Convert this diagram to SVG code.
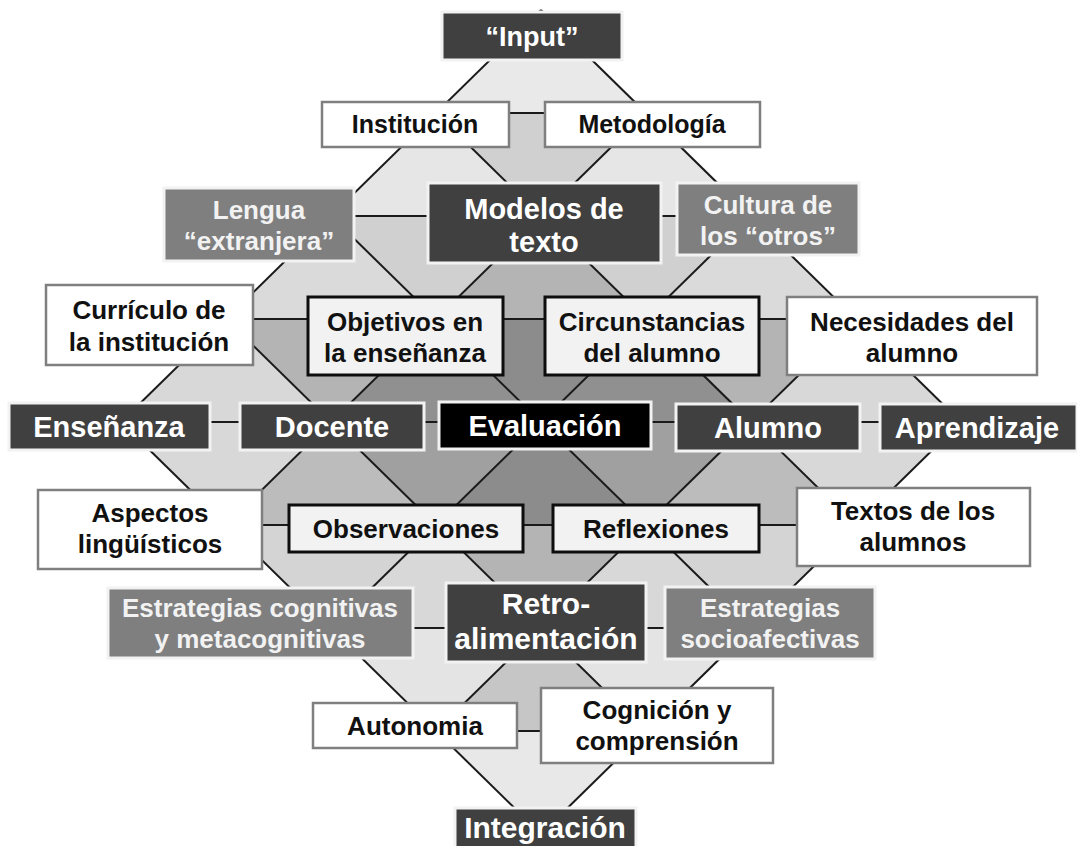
<svg xmlns="http://www.w3.org/2000/svg" width="1077" height="846" viewBox="0 0 1077 846">
  <style>
    .bg { stroke: none; }
    .ln { stroke: #1a1a1a; stroke-width: 2; fill: none; }
    .dark { fill: #404040; stroke: #f2f2f2; stroke-width: 3; }
    .blk { fill: #000000; stroke: #f2f2f2; stroke-width: 3; }
    .mid { fill: #7f7f7f; stroke: #f2f2f2; stroke-width: 3; }
    .wht { fill: #ffffff; stroke: #7f7f7f; stroke-width: 2.5; }
    .inn { fill: #f2f2f2; stroke: #0d0d0d; stroke-width: 3; }
    text { font-family: "Liberation Sans", Arial, sans-serif; font-weight: bold; text-anchor: middle; }
    .tw { fill: #ffffff; }
    .tl { fill: #f2f2f2; }
    .td { fill: #111111; }
    .s26 { font-size: 26px; }
    .s29 { font-size: 29px; }
  </style>

  <!-- shaded lattice of triangles -->
  <g id="background">
    <polygon class="bg" fill="#e9e9e9" points="541,10 436,113 646,113"/>
    <polygon class="bg" fill="#e6e6e6" points="436,113 331,216 541,216"/>
    <polygon class="bg" fill="#d0d0d0" points="436,113 646,113 541,216"/>
    <polygon class="bg" fill="#e6e6e6" points="646,113 541,216 751,216"/>
    <polygon class="bg" fill="#dadada" points="331,216 226,319 436,319"/>
    <polygon class="bg" fill="#d0d0d0" points="331,216 541,216 436,319"/>
    <polygon class="bg" fill="#b4b4b4" points="541,216 436,319 646,319"/>
    <polygon class="bg" fill="#d0d0d0" points="541,216 751,216 646,319"/>
    <polygon class="bg" fill="#dadada" points="751,216 646,319 856,319"/>
    <polygon class="bg" fill="#d8d8d8" points="226,319 121,422 331,422"/>
    <polygon class="bg" fill="#b4b4b4" points="226,319 436,319 331,422"/>
    <polygon class="bg" fill="#909090" points="436,319 331,422 541,422"/>
    <polygon class="bg" fill="#8c8c8c" points="436,319 646,319 541,422"/>
    <polygon class="bg" fill="#909090" points="646,319 541,422 751,422"/>
    <polygon class="bg" fill="#b4b4b4" points="646,319 856,319 751,422"/>
    <polygon class="bg" fill="#d8d8d8" points="856,319 751,422 961,422"/>
    <polygon class="bg" fill="#d8d8d8" points="121,422 331,422 226,525"/>
    <polygon class="bg" fill="#bcbcbc" points="331,422 226,525 436,525"/>
    <polygon class="bg" fill="#a0a0a0" points="331,422 541,422 436,525"/>
    <polygon class="bg" fill="#8c8c8c" points="541,422 436,525 646,525"/>
    <polygon class="bg" fill="#a0a0a0" points="541,422 751,422 646,525"/>
    <polygon class="bg" fill="#bcbcbc" points="751,422 646,525 856,525"/>
    <polygon class="bg" fill="#d8d8d8" points="751,422 961,422 856,525"/>
    <polygon class="bg" fill="#d4d4d4" points="226,525 436,525 331,628"/>
    <polygon class="bg" fill="#d8d8d8" points="436,525 331,628 541,628"/>
    <polygon class="bg" fill="#b4b4b4" points="436,525 646,525 541,628"/>
    <polygon class="bg" fill="#d8d8d8" points="646,525 541,628 751,628"/>
    <polygon class="bg" fill="#d4d4d4" points="646,525 856,525 751,628"/>
    <polygon class="bg" fill="#e4e4e4" points="331,628 541,628 436,731"/>
    <polygon class="bg" fill="#c6c6c6" points="541,628 436,731 646,731"/>
    <polygon class="bg" fill="#e4e4e4" points="541,628 751,628 646,731"/>
    <polygon class="bg" fill="#e8e8e8" points="436,731 646,731 541,834"/>
  </g>

  <!-- connectors: diagonal lattice edges and row links -->
  <g id="connectors" class="ln">
    <!-- "\" direction -->
    <path d="M541,10 L961,422"/>
    <path d="M436,113 L856,525"/>
    <path d="M331,216 L751,628"/>
    <path d="M226,319 L646,731"/>
    <path d="M121,422 L541,834"/>
    <!-- "/" direction -->
    <path d="M541,10 L121,422"/>
    <path d="M646,113 L226,525"/>
    <path d="M751,216 L331,628"/>
    <path d="M856,319 L436,731"/>
    <path d="M961,422 L541,834"/>
    <!-- row links -->
    <path d="M436,113 H646"/>
    <path d="M331,216 H751"/>
    <path d="M226,319 H856"/>
    <path d="M121,422 H961"/>
    <path d="M226,525 H856"/>
    <path d="M331,628 H751"/>
    <path d="M436,731 H646"/>
  </g>

  <g id="input"><rect class="dark" x="442" y="12" width="180" height="48"/><text class="tw" x="532" y="46" font-size="27">“Input”</text></g>

  <g id="institucion"><rect class="wht" x="322" y="102" width="187" height="45"/><text class="td" x="415" y="133" font-size="25">Institución</text></g>
  <g id="metodologia"><rect class="wht" x="545" y="102" width="215" height="45"/><text class="td" x="652" y="133" font-size="25">Metodología</text></g>

  <g id="lengua"><rect class="mid" x="164" y="188" width="190" height="73"/><text class="tl s26" x="259"><tspan x="259" y="219">Lengua</tspan><tspan x="259" y="250">“extranjera”</tspan></text></g>
  <g id="modelos"><rect class="dark" x="428" y="183" width="233" height="80"/><text class="tw s29" x="544"><tspan x="544" y="219">Modelos de</tspan><tspan x="544" y="252">texto</tspan></text></g>
  <g id="cultura"><rect class="mid" x="677" y="183" width="182" height="72"/><text class="tl s26" x="768"><tspan x="768" y="214">Cultura de</tspan><tspan x="768" y="245">los “otros”</tspan></text></g>

  <g id="curriculo"><rect class="wht" x="46" y="285" width="207" height="80"/><text class="td s26" x="149"><tspan x="149" y="319">Currículo de</tspan><tspan x="149" y="351">la institución</tspan></text></g>
  <g id="objetivos"><rect class="inn" x="308" y="297" width="195" height="78"/><text class="td s26" x="405"><tspan x="405" y="331">Objetivos en</tspan><tspan x="405" y="362">la enseñanza</tspan></text></g>
  <g id="circunstancias"><rect class="inn" x="545" y="297" width="214" height="78"/><text class="td s26" x="652"><tspan x="652" y="331">Circunstancias</tspan><tspan x="652" y="362">del alumno</tspan></text></g>
  <g id="necesidades"><rect class="wht" x="787" y="297" width="250" height="78"/><text class="td s26" x="912"><tspan x="912" y="331">Necesidades del</tspan><tspan x="912" y="362">alumno</tspan></text></g>

  <g id="ensenanza"><rect class="dark" x="9" y="403" width="201" height="47"/><text class="tw s29" x="109" y="437">Enseñanza</text></g>
  <g id="docente"><rect class="dark" x="240" y="403" width="184" height="47"/><text class="tw s29" x="332" y="437">Docente</text></g>
  <g id="evaluacion"><rect class="blk" x="439" y="402" width="212" height="47"/><text class="tw s29" x="545" y="436">Evaluación</text></g>
  <g id="alumno"><rect class="dark" x="676" y="404" width="184" height="47"/><text class="tw s29" x="768" y="438">Alumno</text></g>
  <g id="aprendizaje"><rect class="dark" x="880" y="404" width="197" height="47"/><text class="tw s29" x="977" y="438">Aprendizaje</text></g>

  <g id="aspectos"><rect class="wht" x="38" y="490" width="224" height="79"/><text class="td s26" x="150"><tspan x="150" y="522">Aspectos</tspan><tspan x="150" y="553">lingüísticos</tspan></text></g>
  <g id="observaciones"><rect class="inn" x="289" y="505" width="234" height="47"/><text class="td s26" x="406" y="538">Observaciones</text></g>
  <g id="reflexiones"><rect class="inn" x="553" y="505" width="206" height="47"/><text class="td s26" x="656" y="538">Reflexiones</text></g>
  <g id="textos"><rect class="wht" x="797" y="488" width="233" height="78"/><text class="td s26" x="913"><tspan x="913" y="520">Textos de los</tspan><tspan x="913" y="551">alumnos</tspan></text></g>

  <g id="estrategias-cog"><rect class="mid" x="108" y="588" width="305" height="70"/><text class="tl s26" x="260"><tspan x="260" y="617">Estrategias cognitivas</tspan><tspan x="260" y="648">y metacognitivas</tspan></text></g>
  <g id="retro"><rect class="dark" x="446" y="583" width="200" height="79"/><text class="tw" font-size="30" x="546"><tspan x="546" y="614">Retro-</tspan><tspan x="546" y="649">alimentación</tspan></text></g>
  <g id="estrategias-soc"><rect class="mid" x="665" y="587" width="210" height="72"/><text class="tl s26" x="770"><tspan x="770" y="617">Estrategias</tspan><tspan x="770" y="648">socioafectivas</tspan></text></g>

  <g id="autonomia"><rect class="wht" x="313" y="703" width="204" height="45"/><text class="td s26" x="415" y="735">Autonomia</text></g>
  <g id="cognicion"><rect class="wht" x="541" y="688" width="232" height="75"/><text class="td s26" x="657"><tspan x="657" y="719">Cognición y</tspan><tspan x="657" y="750">comprensión</tspan></text></g>

  <g id="integracion"><rect class="dark" x="455" y="808" width="181" height="44"/><text class="tw" font-size="30" x="545" y="838">Integración</text></g>
</svg>
